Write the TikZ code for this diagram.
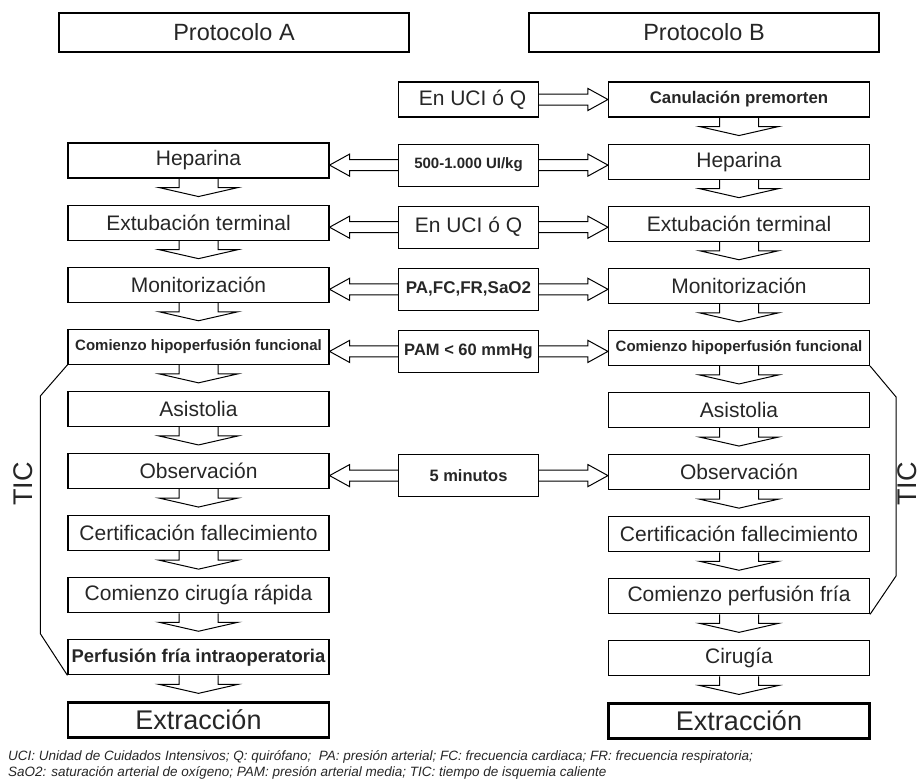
\documentclass[tikz,border=0pt]{standalone}
\usepackage{fontspec}
\setmainfont{Liberation Sans}
\usetikzlibrary{calc,positioning}

\newcommand{\txtreg}{\fontsize{21}{25}\selectfont}
\newcommand{\txtbf}[1]{\fontsize{#1}{#1}\selectfont\bfseries}

% hollow arrow between two stacked boxes
\newcommand{\vflow}[2]{%
  \draw[hollow] ($(#1.south)+(-19.5,0)$) -- ($(#2.north)+(-19.5,17)$) -- ++(-20,0)
    -- ($(#2.north)+(0,8)$) -- ($(#2.north)+(39.5,17)$) -- ++(-20,0) -- ($(#1.south)+(19.5,0)$);}
% hollow arrow from a middle box to a side box
\newcommand{\hflow}[3]{%
  \draw[hollow] let \p1=(#1), \p2=(#2) in
    (\x1,\y1+5.5pt) -- ({\x2+(#3)},\y1+5.5pt) -- ({\x2+(#3)},\y1+11pt) -- (\x2,\y1)
    -- ({\x2+(#3)},\y1-11pt) -- ({\x2+(#3)},\y1-5.5pt) -- (\x1,\y1-5.5pt);}

\begin{document}
\begin{tikzpicture}[
  x=1pt, y=1pt,
  node distance=26pt,
  every node/.style={text=black!85},
  box/.style={draw, line width=1.1pt, minimum width=261pt, minimum height=35pt, inner sep=0pt, font=\txtreg},
  midbox/.style={draw, line width=1.1pt, minimum width=140pt, minimum height=42pt, inner sep=0pt, font=\txtreg},
  head/.style={draw, line width=2.4pt, minimum width=350pt, minimum height=39pt, inner sep=0pt, font=\fontsize{23.5}{26}\selectfont},
  endbox/.style={box, line width=2.4pt, font=\fontsize{27}{30}\selectfont},
  hollow/.style={draw, line width=1pt, line join=miter},
  bracket/.style={draw, line width=1pt},
  tic/.style={rotate=90, inner sep=0pt, font=\fontsize{27}{30}\selectfont}
]
\useasboundingbox (0,0) rectangle (924,-782);

\node[head] (pa) at (234,-32.5) {Protocolo A};
\node[head] (pb) at (704,-32.5) {Protocolo B};

% Protocolo A
\node[box] (a2) at (198.5,-160.5) {Heparina};
\node[box, below=of a2] (a3) {Extubación terminal};
\node[box, below=of a3] (a4) {Monitorización};
\node[box, below=of a4, font=\txtbf{15}] (a5) {Comienzo hipoperfusión funcional};
\node[box, below=of a5] (a6) {Asistolia};
\node[box, below=of a6] (a7) {Observación};
\node[box, below=of a7] (a8) {Certificación fallecimiento};
\node[box, below=of a8] (a9) {Comienzo cirugía rápida};
\node[box, below=of a9, font=\txtbf{18.4}] (a10) {Perfusión fría intraoperatoria};
\node[endbox, below=of a10] (a11) {Extracción};

% Protocolo B
\node[box, font=\txtbf{16.8}] (b1) at (739,-99.5) {Canulación premorten};
\node[box, below=of b1] (b2) {Heparina};
\node[box, below=of b2] (b3) {Extubación terminal};
\node[box, below=of b3] (b4) {Monitorización};
\node[box, below=of b4, font=\txtbf{15}] (b5) {Comienzo hipoperfusión funcional};
\node[box, below=of b5] (b6) {Asistolia};
\node[box, below=of b6] (b7) {Observación};
\node[box, below=of b7] (b8) {Certificación fallecimiento};
\node[box, below=of b8] (b9) {Comienzo perfusión fría};
\node[box, below=of b9] (b10) {Cirugía};
\node[endbox, below=of b10] (b11) {Extracción};

% middle column
\node[midbox, minimum height=35pt] (m1) at (468.5,-99.5) {\hspace{8pt}En UCI ó Q};
\node[midbox, anchor=north, font=\txtbf{15}] (m2) at (b2.north -| m1) {500-1.000 UI/kg};
\node[midbox, anchor=north] (m3) at (b3.north -| m1) {En UCI ó Q};
\node[midbox, anchor=north, font=\txtbf{17}] (m4) at (b4.north -| m1) {PA,FC,FR,SaO2};
\node[midbox, anchor=north, font=\txtbf{16.5}] (m5) at (b5.north -| m1) {PAM < 60 mmHg};
\node[midbox, anchor=north, font=\txtbf{16.5}] (m7) at (b7.north -| m1) {5 minutos};

% flow arrows
\foreach \i in {2,...,10} {
  \pgfmathtruncatemacro{\j}{\i+1}
  \vflow{a\i}{a\j}
}
\foreach \i in {1,...,10} {
  \pgfmathtruncatemacro{\j}{\i+1}
  \vflow{b\i}{b\j}
}
\hflow{m1.east}{b1.west}{-20pt}
\foreach \r in {2,3,4,5,7} {
  \hflow{m\r.west}{a\r.east}{20pt}
  \hflow{m\r.east}{b\r.west}{-20pt}
}

% TIC brackets
\draw[bracket] (a5.south west) -- ++(-27,-31) -- ++(0,-238) -- (a10.south west);
\draw[bracket] (b5.south east) -- ++(26,-31) -- ++(0,-179) -- (b9.south east);
\node[tic] (tica) at (23,-484) {TIC};
\node[tic] (ticb) at (907.5,-484) {TIC};

\node[anchor=north west, inner sep=0pt, align=left, font=\fontsize{13.5}{16}\selectfont\itshape] (note) at (8,-750.5)
  {UCI: Unidad de Cuidados Intensivos; Q: quirófano;\ \ PA: presión arterial; FC: frecuencia cardiaca; FR: frecuencia respiratoria;\\
   SaO2: saturación arterial de oxígeno; PAM: presión arterial media; TIC: tiempo de isquemia caliente};
\end{tikzpicture}
\end{document}
